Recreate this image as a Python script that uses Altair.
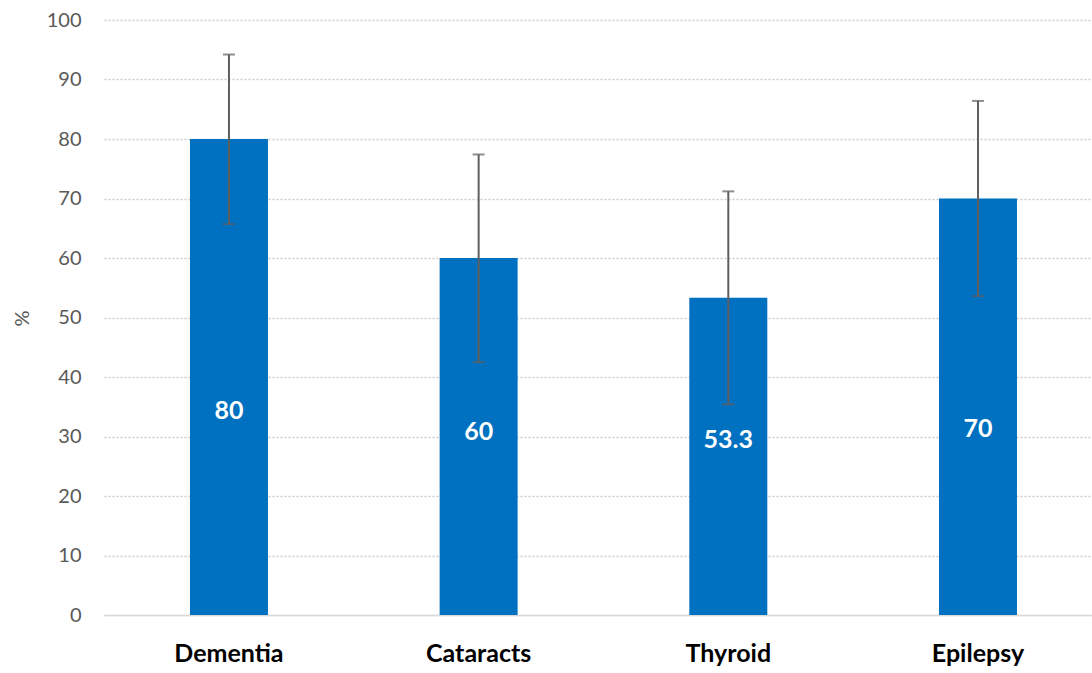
import altair as alt
import pandas as pd

categories = ["Dementia", "Cataracts", "Thyroid", "Epilepsy"]
values = [80, 60, 53.3, 70]
err_low = [65.7, 42.5, 35.4, 53.6]
err_high = [94.2, 77.4, 71.2, 86.4]
label_pos = [34.3, 30.8, 29.4, 31.3]
labels = ["80", "60", "53.3", "70"]

df = pd.DataFrame({
    "cat": categories, "value": values, "lo": err_low, "hi": err_high,
    "lpos": label_pos, "label": labels,
})

FONT = "Lato"
xscale = alt.Scale(paddingInner=0.6876, paddingOuter=0.3224, align=0.534)
x = alt.X("cat:N", sort=categories, scale=xscale, title=None,
          axis=alt.Axis(labelAngle=0, labelFont=FONT, labelFontWeight="bold",
                        labelFontSize=25, labelColor="#000000", labelPadding=26,
                        ticks=False, domainColor="#d9d9d9", domainWidth=1.5,
                        grid=False))
yscale = alt.Scale(domain=[0, 100], nice=False)

bars = alt.Chart(df).mark_bar(color="#0070C0").encode(
    x=x,
    y=alt.Y("value:Q", scale=yscale, title="%",
            axis=alt.Axis(values=list(range(0, 101, 10)), labelFont=FONT,
                          labelFontSize=20, labelColor="#595959", labelPadding=23,
                          ticks=False, domain=False, gridColor="#cccccc",
                          gridDash=[2, 2], gridWidth=1.4,
                          titleFont=FONT, titleFontSize=20, titleColor="#595959",
                          titleFontWeight="normal", titleX=-82, titleY=298,
                          titleAngle=270, titleAlign="center",
                          titleBaseline="middle")),
)

rule = alt.Chart(df).mark_rule(color="#5f5f5f", strokeWidth=2).encode(
    x=alt.X("cat:N", sort=categories, scale=xscale),
    y=alt.Y("lo:Q", scale=yscale),
    y2="hi:Q",
)
cap_hi = alt.Chart(df).mark_tick(color="#5f5f5f", orient="horizontal",
                                 size=12, thickness=2).encode(
    x=alt.X("cat:N", sort=categories, scale=xscale),
    y=alt.Y("hi:Q", scale=yscale),
)
cap_lo = alt.Chart(df).mark_tick(color="#5f5f5f", orient="horizontal",
                                 size=12, thickness=2).encode(
    x=alt.X("cat:N", sort=categories, scale=xscale),
    y=alt.Y("lo:Q", scale=yscale),
)
text = alt.Chart(df).mark_text(color="white", font=FONT, fontWeight="bold",
                               fontSize=25, baseline="middle").encode(
    x=alt.X("cat:N", sort=categories, scale=xscale),
    y=alt.Y("lpos:Q", scale=yscale),
    text="label:N",
)

chart = alt.layer(bars, rule, cap_hi, cap_lo, text).properties(
    width=988, height=595,
    autosize=alt.AutoSizeParams(type="none"),
    padding={"left": 104, "top": 20, "right": 0, "bottom": 58},
).configure_view(stroke=None)

chart.save("out.html", embed_options={"renderer": "svg", "actions": False})
